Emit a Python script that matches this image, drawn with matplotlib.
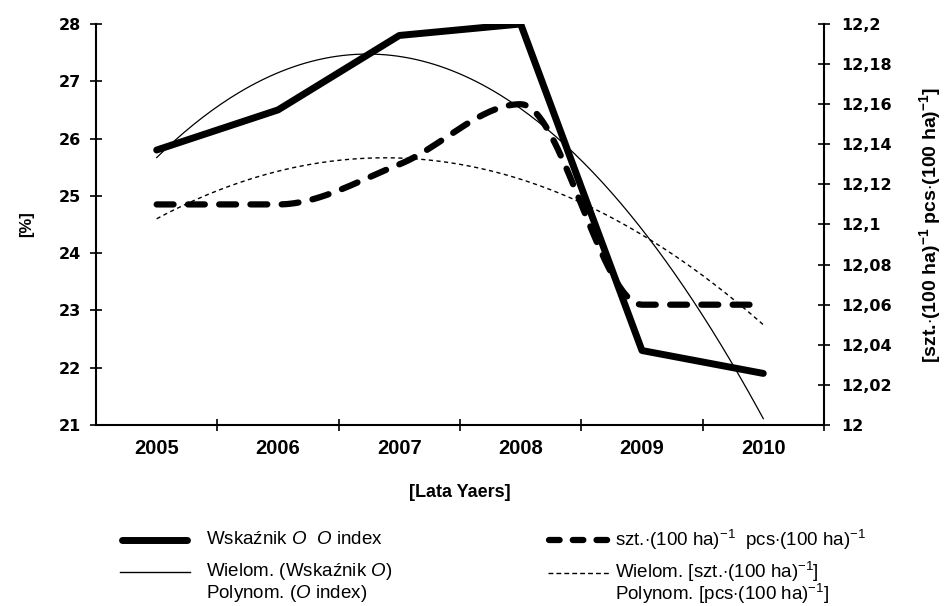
import numpy as np
import matplotlib
matplotlib.use("Agg")
import matplotlib.pyplot as plt
from matplotlib.lines import Line2D

plt.rcParams["font.family"] = ["Liberation Sans", "DejaVu Sans"]
plt.rcParams["mathtext.fontset"] = "custom"
plt.rcParams["mathtext.rm"] = "Liberation Sans"
plt.rcParams["mathtext.it"] = "Liberation Sans:italic"
plt.rcParams["mathtext.bf"] = "Liberation Sans:bold"

# dane
years = ["2005", "2006", "2007", "2008", "2009", "2010"]
o_index = [25.8, 26.5, 27.8, 28.0, 22.3, 21.9]            # [%]
pcs_per_100ha = [12.11, 12.11, 12.13, 12.16, 12.06, 12.06]  # szt.(100 ha)^-1

left_ticks = [21, 22, 23, 24, 25, 26, 27, 28]
right_ticks = [12.0, 12.02, 12.04, 12.06, 12.08, 12.1, 12.12, 12.14, 12.16, 12.18, 12.2]


def smooth_line(x, y, n=40):
    # monotoniczna interpolacja kubiczna (Fritsch-Carlson), jak wygladzona linia w arkuszu
    x = np.asarray(x, float)
    y = np.asarray(y, float)
    h = np.diff(x)
    d = np.diff(y) / h
    m = np.zeros_like(y)
    m[0], m[-1] = d[0], d[-1]
    for i in range(1, len(y) - 1):
        if d[i - 1] * d[i] > 0:
            m[i] = 2.0 / (1.0 / d[i - 1] + 1.0 / d[i])
    xs, ys = [], []
    for i in range(len(h)):
        t = np.linspace(0, 1, n)
        h00 = 2 * t**3 - 3 * t**2 + 1
        h10 = t**3 - 2 * t**2 + t
        h01 = -2 * t**3 + 3 * t**2
        h11 = t**3 - t**2
        xs.append(x[i] + t * h[i])
        ys.append(h00 * y[i] + h10 * h[i] * m[i] + h01 * y[i + 1] + h11 * h[i] * m[i + 1])
    return np.concatenate(xs), np.concatenate(ys)


x = np.arange(len(years))
xf = np.linspace(x[0], x[-1], 200)
fit_o = np.polyval(np.polyfit(x, o_index, 2), xf)
fit_p = np.polyval(np.polyfit(x, pcs_per_100ha, 2), xf)

fig = plt.figure(figsize=(9.46, 6.06), dpi=100)
ax = fig.add_axes([0.1015, 0.2987, 0.7695, 0.6617])
ax2 = ax.twinx()

ax.plot(x, o_index, color="black", lw=5, solid_joinstyle="round", solid_capstyle="round", zorder=4)
ax.plot(xf, fit_o, color="black", lw=0.9, zorder=3)

xs, ys = smooth_line(x, pcs_per_100ha)
ax2.plot(xs, ys, color="black", lw=4.5, dashes=(2.7, 2.3), dash_capstyle="round", zorder=4)
ax2.plot(xf, fit_p, color="black", lw=1.0, dashes=(3, 2.5), zorder=3)

ax.set_xlim(-0.5, 5.5)
ax.set_ylim(21, 28)
ax2.set_ylim(12.0, 12.2)

ax.set_yticks(left_ticks)
ax.set_yticklabels([str(v) for v in left_ticks])
ax2.set_yticks(right_ticks)
ax2.set_yticklabels([f"{v:.2f}".rstrip("0").rstrip(".").replace(".", ",") for v in right_ticks])

ax.set_xticks(np.arange(0.5, 6.0, 1.0))
ax.set_xticklabels([])
ax.set_xticks(x, minor=True)
ax.set_xticklabels(years, minor=True)

for a in (ax, ax2):
    a.spines["top"].set_visible(False)
    for s in a.spines.values():
        s.set_linewidth(1.5)
ax.spines["right"].set_visible(False)
ax2.spines["left"].set_visible(False)
ax2.spines["bottom"].set_visible(False)

ax.tick_params(axis="y", direction="inout", length=9, width=1.2, pad=6)
ax2.tick_params(axis="y", direction="inout", length=9, width=1.2, pad=8)
ax.tick_params(axis="x", which="major", direction="inout", length=9, width=1.2)
ax.tick_params(axis="x", which="minor", length=0, pad=10)
for lab in ax.get_yticklabels() + ax2.get_yticklabels():
    lab.set_fontfamily("DejaVu Sans")
    lab.set_fontweight("bold")
    lab.set_fontsize(11.5)
for lab in ax.get_xticklabels(minor=True):
    lab.set_fontweight("bold")
    lab.set_fontsize(14.5)

ax.set_xlabel("[Lata Yaers]", fontsize=13, fontweight="bold", labelpad=19)
ax.set_ylabel("[%]", fontsize=12, fontweight="bold", labelpad=18)
ax2.set_ylabel(r"[szt.$\cdot$(100 ha)$^{\mathbf{-1}}$ pcs$\cdot$(100 ha)$^{\mathbf{-1}}$]",
               fontsize=14, fontweight="bold", labelpad=18, rotation=90)

# legenda rysowana recznie (dwie kolumny)
W, H = 946.0, 606.0
FS = 13.5


def key(x0, x1, y, **kw):
    fig.add_artist(Line2D([x0 / W, x1 / W], [1 - y / H, 1 - y / H], color="black", **kw))


def label(x0, y, s):
    fig.text(x0 / W, 1 - y / H, s, fontsize=FS, va="center")


key(122, 187, 540, lw=5, solid_capstyle="round")
label(206, 540, r"Wskaźnik $\it{O}$  $\it{O}$ index")
key(120, 190, 572, lw=1.0)
label(206, 572, r"Wielom. (Wskaźnik $\it{O}$)")
label(206, 593, r"Polynom. ($\it{O}$ index)")

key(549, 608, 540, lw=4.5, dashes=(1.7, 2.1), dash_capstyle="round")
label(615, 540, r"szt.$\cdot$(100 ha)$^{-1}$  pcs$\cdot$(100 ha)$^{-1}$")
key(548, 611, 573, lw=1.0, dashes=(3.5, 2.2))
label(615, 572, r"Wielom. [szt.$\cdot$(100 ha)$^{-1}$]")
label(615, 594, r"Polynom. [pcs$\cdot$(100 ha)$^{-1}$]")

fig.savefig("out.png", dpi=100, facecolor="white")
